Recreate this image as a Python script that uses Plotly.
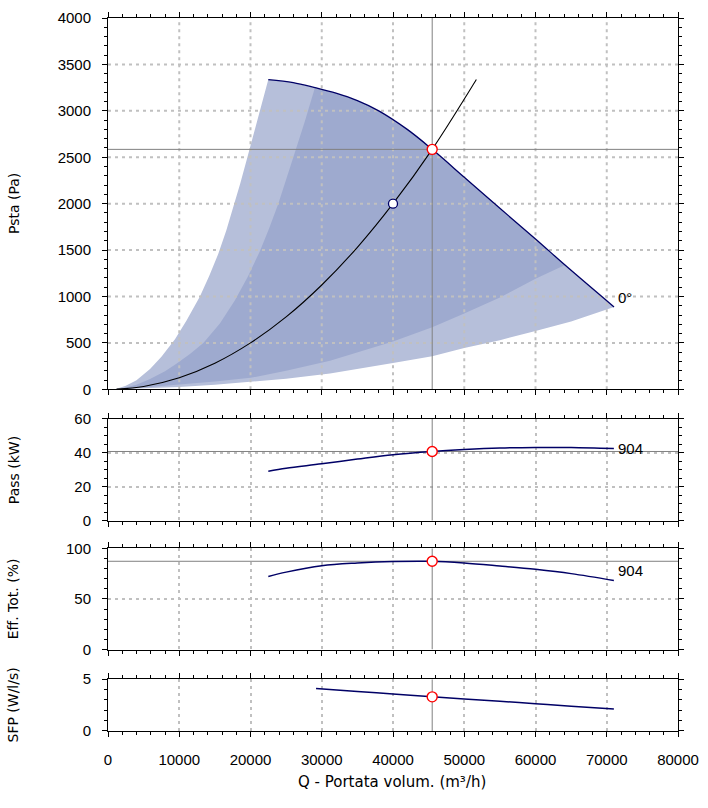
import plotly.graph_objects as go

# ---------------- data ----------------
Q_TICKS = [0, 10000, 20000, 30000, 40000, 50000, 60000, 70000, 80000]
PSTA_TICKS = [0, 500, 1000, 1500, 2000, 2500, 3000, 3500, 4000]
PASS_TICKS = [0, 20, 40, 60]
EFF_TICKS = [0, 50, 100]
SFP_TICKS = [0, 5]

# fan curve at blade angle 0 deg (top boundary of the working field)
FAN_Q = [22500, 26000, 29050, 32000, 35000, 38000, 42000, 45500, 50000, 55000, 60000, 64140, 71020]
FAN_P = [3337, 3305, 3250, 3190, 3110, 3000, 2800, 2585, 2285, 1950, 1620, 1339, 888]

# outer (light) field boundaries
LIGHT_LEFT_Q = [1000, 2500, 4000, 5900, 7500, 9400, 11000, 12900, 14200, 15480, 16600, 17590,
                18550, 19460, 20300, 21000, 21800, 22500]
LIGHT_LEFT_P = [0, 38, 98, 220, 350, 540, 740, 1000, 1220, 1460, 1710, 1960,
                2215, 2470, 2705, 2905, 3130, 3337]
LIGHT_BOT_Q = [1000, 5000, 10000, 15000, 20000, 25000, 31160, 35000, 40000, 45500, 50000,
               55000, 60000, 65000, 71020]
LIGHT_BOT_P = [0, 8, 25, 48, 78, 115, 170, 215, 284, 355, 444, 530, 628, 730, 888]

# inner (dark) field boundaries
DARK_LEFT_Q = [1500, 4000, 5900, 8000, 9500, 11500, 13380, 15700, 17820, 19600, 21330, 22650,
               23900, 25000, 26010, 27600, 29050]
DARK_LEFT_P = [0, 50, 110, 195, 270, 380, 500, 710, 960, 1210, 1490, 1740,
               2000, 2250, 2500, 2880, 3250]
DARK_BOT_Q = [1500, 5000, 10000, 15000, 20000, 25000, 31160, 35000, 40000, 45500, 50000,
              55000, 60000, 64140]
DARK_BOT_P = [0, 20, 50, 85, 124, 200, 309, 395, 515, 668, 817, 990, 1190, 1339]

# system curve
SYS_Q = [1200, 5000, 10000, 15000, 20000, 25000, 30000, 35000, 40000, 45500, 51700]
SYS_P = [2, 31, 125, 281, 500, 780, 1124, 1530, 2000, 2585, 3337]

# operating point / reference point
OP_Q = 45500
OP_PSTA = 2585
OP_PASS = 40.8
OP_EFF = 87.2
OP_SFP = 3.3
REF_Q = 40000
REF_P = 2000

PASS_Q = [22500, 25000, 30000, 35000, 40000, 45500, 50000, 55000, 60000, 65000, 71000]
PASS_KW = [29.2, 30.9, 33.5, 36.3, 38.9, 40.8, 41.9, 42.8, 43.2, 43.1, 42.5]
EFF_Q = [22500, 25000, 30000, 35000, 40000, 45500, 50000, 55000, 60000, 65000, 71000]
EFF_PCT = [72.2, 76.5, 82.8, 85.5, 87.0, 87.2, 85.5, 82.5, 79.2, 75.0, 68.2]
SFP_Q = [29200, 35000, 40000, 45500, 50000, 55000, 60000, 65000, 71000]
SFP_VAL = [4.1, 3.82, 3.58, 3.3, 3.1, 2.87, 2.64, 2.4, 2.12]

CURVE_LABEL_MAIN = "0°"
CURVE_LABEL_ID = "904"

# ---------------- styles ----------------
LIGHT = "#b6bfda"
DARK = "#9eaacf"
NAVY = "#000066"
GRID = "#c0c0c0"
OPLINE = "#808080"
TICKFONT = dict(family="Liberation Sans", size=15, color="black")
TITLEFONT = dict(family="DejaVu Sans", size=14, color="black")

fig = go.Figure()

# working field polygons (built from the boundary arrays)
light_x = LIGHT_LEFT_Q + FAN_Q[1:] + LIGHT_BOT_Q[::-1][1:]
light_y = LIGHT_LEFT_P + FAN_P[1:] + LIGHT_BOT_P[::-1][1:]
fig.add_trace(go.Scatter(x=light_x, y=light_y, fill="toself", fillcolor=LIGHT,
                         line=dict(width=0), mode="lines", hoverinfo="skip",
                         xaxis="x", yaxis="y"))
i0 = FAN_Q.index(DARK_LEFT_Q[-1])
i1 = FAN_Q.index(DARK_BOT_Q[-1])
dark_x = DARK_LEFT_Q + FAN_Q[i0 + 1:i1] + DARK_BOT_Q[::-1]
dark_y = DARK_LEFT_P + FAN_P[i0 + 1:i1] + DARK_BOT_P[::-1]
fig.add_trace(go.Scatter(x=dark_x, y=dark_y, fill="toself", fillcolor=DARK,
                         line=dict(width=0), mode="lines", hoverinfo="skip",
                         xaxis="x", yaxis="y"))

# dotted grid of the main panel drawn over the field
gx, gy = [], []
for v in Q_TICKS[1:-1]:
    gx += [v, v, None]
    gy += [PSTA_TICKS[0], PSTA_TICKS[-1], None]
for v in PSTA_TICKS[1:-1]:
    gx += [Q_TICKS[0], Q_TICKS[-1], None]
    gy += [v, v, None]
fig.add_trace(go.Scatter(x=gx, y=gy, mode="lines", hoverinfo="skip",
                         line=dict(color=GRID, width=2, dash="3px,4px"),
                         xaxis="x", yaxis="y"))

# fan curve and system curve
fig.add_trace(go.Scatter(x=FAN_Q, y=FAN_P, mode="lines", line=dict(color=NAVY, width=1.3),
                         line_shape="spline", xaxis="x", yaxis="y"))
fig.add_trace(go.Scatter(x=SYS_Q, y=SYS_P, mode="lines", line=dict(color="black", width=1.1),
                         line_shape="spline", xaxis="x", yaxis="y"))

panels = [
    ("x", "y", PSTA_TICKS),
    ("x2", "y2", PASS_TICKS),
    ("x3", "y3", EFF_TICKS),
    ("x4", "y4", SFP_TICKS),
]
# operating point lines
for xa, ya, ticks in panels:
    fig.add_trace(go.Scatter(x=[OP_Q, OP_Q], y=[ticks[0], ticks[-1]], mode="lines",
                             line=dict(color=OPLINE, width=1), xaxis=xa, yaxis=ya))
for (xa, ya, ticks), val in zip(panels[:3], [OP_PSTA, OP_PASS, OP_EFF]):
    fig.add_trace(go.Scatter(x=[Q_TICKS[0], Q_TICKS[-1]], y=[val, val], mode="lines",
                             line=dict(color=OPLINE, width=1), xaxis=xa, yaxis=ya))

# lower panel curves
fig.add_trace(go.Scatter(x=PASS_Q, y=PASS_KW, mode="lines", line=dict(color=NAVY, width=1.5),
                         line_shape="spline", xaxis="x2", yaxis="y2"))
fig.add_trace(go.Scatter(x=EFF_Q, y=EFF_PCT, mode="lines", line=dict(color=NAVY, width=1.5),
                         line_shape="spline", xaxis="x3", yaxis="y3"))
fig.add_trace(go.Scatter(x=SFP_Q, y=SFP_VAL, mode="lines", line=dict(color=NAVY, width=1.5),
                         line_shape="spline", xaxis="x4", yaxis="y4"))

# markers
fig.add_trace(go.Scatter(x=[REF_Q], y=[REF_P], mode="markers",
                         marker=dict(size=9, color="white", line=dict(color=NAVY, width=1.3)),
                         xaxis="x", yaxis="y"))
for (xa, ya, ticks), val in zip(panels, [OP_PSTA, OP_PASS, OP_EFF, OP_SFP]):
    fig.add_trace(go.Scatter(x=[OP_Q], y=[val], mode="markers",
                             marker=dict(size=10, color="white", line=dict(color="#ff0000", width=1.4)),
                             xaxis=xa, yaxis=ya))

# ---------------- layout ----------------
def xaxis(show_labels, grid, anchor):
    return dict(range=[Q_TICKS[0], Q_TICKS[-1]], tickmode="array", tickvals=Q_TICKS,
                ticktext=[str(v) for v in Q_TICKS], showticklabels=show_labels,
                showline=True, linecolor="black", linewidth=1, mirror="ticks",
                ticks="outside", ticklen=5, tickcolor="black",
                minor=dict(tickmode="linear", tick0=0, dtick=2000, ticks="outside", ticklen=3,
                           tickcolor="black", showgrid=False),
                showgrid=grid, gridcolor=GRID, gridwidth=2, griddash="3px,4px",
                zeroline=False, tickfont=TICKFONT, anchor=anchor, ticklabelstandoff=10)

def yaxis(ticks, minor_dt, domain, grid, anchor):
    return dict(range=[ticks[0], ticks[-1]], tickmode="array", tickvals=ticks,
                ticktext=[str(v) for v in ticks], domain=domain,
                showline=True, linecolor="black", linewidth=1, mirror="ticks",
                ticks="outside", ticklen=5, tickcolor="black",
                minor=dict(tickmode="linear", tick0=0, dtick=minor_dt, ticks="outside", ticklen=3,
                           tickcolor="black", showgrid=False),
                showgrid=grid, gridcolor=GRID, gridwidth=2, griddash="3px,4px",
                zeroline=False, tickfont=TICKFONT, anchor=anchor, ticklabelstandoff=8)

D_MAIN = [0.4792, 1.0]
D_PASS = [0.2950, 0.4377]
D_EFF = [0.1143, 0.2562]
D_SFP = [0.0, 0.0726]

fig.update_layout(
    width=708, height=808,
    margin=dict(l=108, r=30, t=9, b=77),
    paper_bgcolor="white", plot_bgcolor="white",
    showlegend=False,
    xaxis=xaxis(False, False, "y"),
    yaxis=yaxis(PSTA_TICKS, 100, D_MAIN, False, "x"),
    xaxis2=xaxis(False, True, "y2"),
    yaxis2=yaxis(PASS_TICKS, 5, D_PASS, True, "x2"),
    xaxis3=xaxis(False, True, "y3"),
    yaxis3=yaxis(EFF_TICKS, 10, D_EFF, True, "x3"),
    xaxis4=xaxis(True, True, "y4"),
    yaxis4=yaxis(SFP_TICKS, 1, D_SFP, True, "x4"),
)

ytitle_x = -0.166
annots = []
for txt, dom in [("Psta (Pa)", D_MAIN), ("Pass (kW)", D_PASS),
                 ("Eff. Tot. (%)", D_EFF), ("SFP (W/l/s)", D_SFP)]:
    annots.append(dict(text=txt, xref="paper", yref="paper", x=ytitle_x, y=(dom[0] + dom[1]) / 2,
                       textangle=-90, showarrow=False, font=TITLEFONT,
                       xanchor="center", yanchor="middle"))
annots.append(dict(text="Q - Portata volum. (m³/h)", xref="paper", yref="paper", x=0.4975,
                   y=-0.072, showarrow=False, font=dict(family="DejaVu Sans", size=15, color="black"),
                   xanchor="center", yanchor="middle"))
annots.append(dict(text=CURVE_LABEL_MAIN, x=FAN_Q[-1], y=FAN_P[-1], xref="x", yref="y",
                   showarrow=False, xanchor="left", yanchor="middle", xshift=2, yshift=9,
                   font=TICKFONT))
annots.append(dict(text=CURVE_LABEL_ID, x=PASS_Q[-1], y=PASS_KW[-1], xref="x2", yref="y2",
                   showarrow=False, xanchor="left", yanchor="middle", xshift=2, yshift=0,
                   font=TICKFONT))
annots.append(dict(text=CURVE_LABEL_ID, x=EFF_Q[-1], y=EFF_PCT[-1], xref="x3", yref="y3",
                   showarrow=False, xanchor="left", yanchor="middle", xshift=2, yshift=10,
                   font=TICKFONT))
fig.update_layout(annotations=annots)

fig.write_html("out.html", config={"displayModeBar": False},
               post_script="document.body.style.margin='0px';")
